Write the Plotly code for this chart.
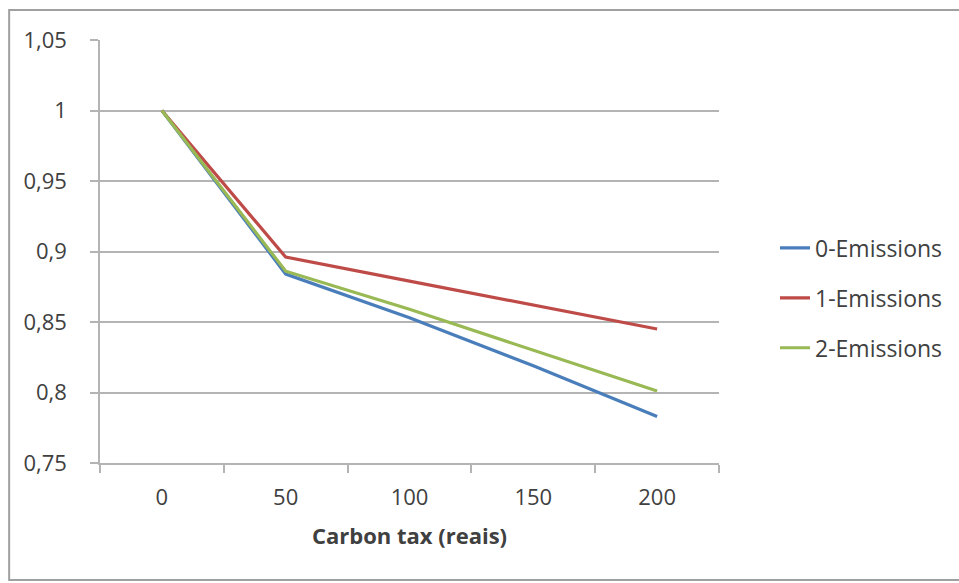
import plotly.graph_objects as go

categories = ["0", "50", "100", "150", "200"]
series_names = ["0-Emissions", "1-Emissions", "2-Emissions"]
emissions_0 = [1.0, 0.884, 0.853, 0.819, 0.783]
emissions_1 = [1.0, 0.896, 0.879, 0.862, 0.845]
emissions_2 = [1.0, 0.886, 0.859, 0.830, 0.801]
colors = ["#4A7EBB", "#BE4B48", "#98B954"]
y_tickvals = [0.75, 0.8, 0.85, 0.9, 0.95, 1.0, 1.05]
y_ticktext = ["0,75", "0,8", "0,85", "0,9", "0,95", "1", "1,05"]

W, H = 959, 583
L, R, T, B = 100, 720, 40, 463

fig = go.Figure()
for name, vals, c in zip(series_names, [emissions_0, emissions_1, emissions_2], colors):
    fig.add_trace(go.Scatter(x=categories, y=vals, mode="lines", name=name,
                             legendgroup=name,
                             line=dict(color=c, width=3.2)))

grid = "#B4B4B4"
FONT = "Open Sans, sans-serif"
fig.update_layout(
    width=W, height=H,
    margin=dict(l=L, r=W - R, t=T, b=H - B),
    paper_bgcolor="white", plot_bgcolor="white",
    font=dict(family=FONT, color="#404040", size=22),
    showlegend=True,
    legend=dict(x=(775 - L) / (R - L), xanchor="left",
                y=(B - 298) / (B - T), yanchor="middle",
                tracegroupgap=17, font=dict(size=23, color="#404040"),
                bgcolor="rgba(0,0,0,0)"),
    xaxis=dict(type="category", tickson="boundaries", ticks="outside",
               range=[-0.5, 4.5],
               ticklen=8, tickcolor=grid, tickwidth=1.5,
               showline=True, linecolor=grid, linewidth=1.5,
               showgrid=False, zeroline=False,
               tickfont=dict(size=22, color="#404040"),
               ticklabelstandoff=14,
               title=dict(text="<b>Carbon tax (reais)</b>",
                          font=dict(size=22, color="#404040"), standoff=18)),
    yaxis=dict(range=[0.75, 1.05], tickvals=y_tickvals, ticktext=y_ticktext,
               ticks="outside", ticklen=8, tickcolor=grid, tickwidth=1.5,
               showline=True, linecolor=grid, linewidth=1.5,
               showgrid=True, gridcolor=grid, gridwidth=1.5, zeroline=False,
               tickfont=dict(size=22, color="#404040"),
               ticklabelstandoff=19),
)

# outer chart border
fig.add_shape(type="rect", xref="paper", yref="paper",
              x0=(9 - L) / (R - L), x1=(W + 5 - L) / (R - L),
              y0=(B - 580) / (B - T), y1=(B - 10) / (B - T),
              line=dict(color="#A0A0A0", width=2), layer="below")

fig.write_html("out.html")
